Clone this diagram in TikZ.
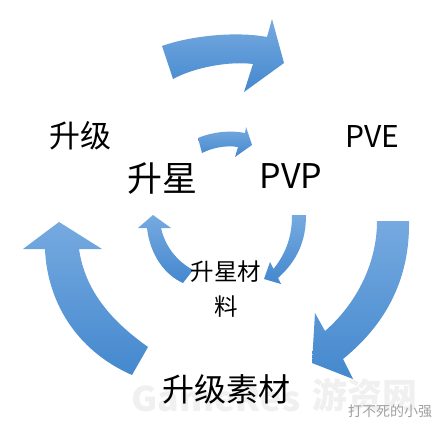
\documentclass[tikz,border=0pt]{standalone}
\usepackage{fontspec}
\setmainfont{Noto Sans CJK SC}
\newfontfamily\cjk{Noto Sans CJK SC}
\definecolor{arrtop}{RGB}{118,170,224}
\definecolor{arrbot}{RGB}{68,136,206}
\definecolor{wmark}{RGB}{240,240,240}
\definecolor{wtext}{RGB}{160,160,160}
\begin{document}
\begin{tikzpicture}[x=1pt,y=-1pt,
  blockarrow/.style={top color=arrtop,bottom color=arrbot,draw=none},
  lbl/.style={inner sep=0pt,text=black,font=\cjk}]
\useasboundingbox[fill=white] (0,0) rectangle (444,432);
% watermark
\node[inner sep=0pt,text=wmark,xscale=1.05,font=\cjk\fontsize{34}{34}\selectfont\bfseries] (wm1) at (216,399) {GameRes};
\node[inner sep=0pt,text=wmark,font=\cjk\fontsize{35}{35}\selectfont\bfseries] (wm2) at (365,395) {游资网};
\node[inner sep=0pt,text=wtext,font=\cjk\fontsize{14}{14}\selectfont] (wm3) at (390,411) {打不死的小强};
% top big arrow
\shade[blockarrow] (162,46) .. controls (190,36) and (235,31) .. (267,37) -- (272,19) -- (284,63)
  -- (244,92) -- (253,64) .. controls (230,61) and (195,67) .. (173,79) -- cycle;
% top small arrow
\shade[blockarrow] (198,138) .. controls (212,132) and (230,130) .. (245,133) -- (246,127) -- (252,145)
  -- (235,157) -- (238,147) .. controls (225,145) and (212,148) .. (202,153) -- cycle;
% left big arrow
\shade[blockarrow] (59,222) -- (102,249) -- (79,249) .. controls (85,290) and (110,320) .. (148,347)
  -- (132,375) .. controls (75,350) and (47,300) .. (45,249) -- (23,249) -- cycle;
% right big arrow
\shade[blockarrow] (377,221) -- (409,221) .. controls (410,280) and (385,325) .. (343,359) -- (353,379)
  -- (312,363) -- (315,313) -- (325,331) .. controls (355,305) and (377,265) .. (377,221) -- cycle;
% left small arrow
\shade[blockarrow] (153,215) -- (171,228) -- (161,228) .. controls (165,245) and (175,260) .. (193,270)
  -- (183,283) .. controls (165,275) and (150,255) .. (147,228) -- (138,228) -- cycle;
% right small arrow
\shade[blockarrow] (292,215) -- (306,215) .. controls (306,240) and (298,260) .. (278,278) -- (281,284)
  -- (264,279) -- (270,262) -- (273.5,269) .. controls (287,252) and (292,235) .. (292,215) -- cycle;
% labels
\node[lbl,font=\cjk\fontsize{31}{31}\selectfont] (sj) at (80,136) {升级};
\node[lbl,font=\cjk\fontsize{30}{30}\selectfont] (pve) at (372,136) {PVE};
\node[lbl,font=\cjk\fontsize{35}{35}\selectfont] (sx) at (162,178) {升星};
\node[lbl,font=\cjk\fontsize{34}{34}\selectfont] (pvp) at (291,176) {PVP};
\node[lbl,align=center,font=\cjk\fontsize{23.5}{35}\selectfont] (sxcl) at (226,289) {升星材\\料};
\node[lbl,font=\cjk\fontsize{32}{32}\selectfont] (sjsc) at (226,389) {升级素材};
\end{tikzpicture}
\end{document}
